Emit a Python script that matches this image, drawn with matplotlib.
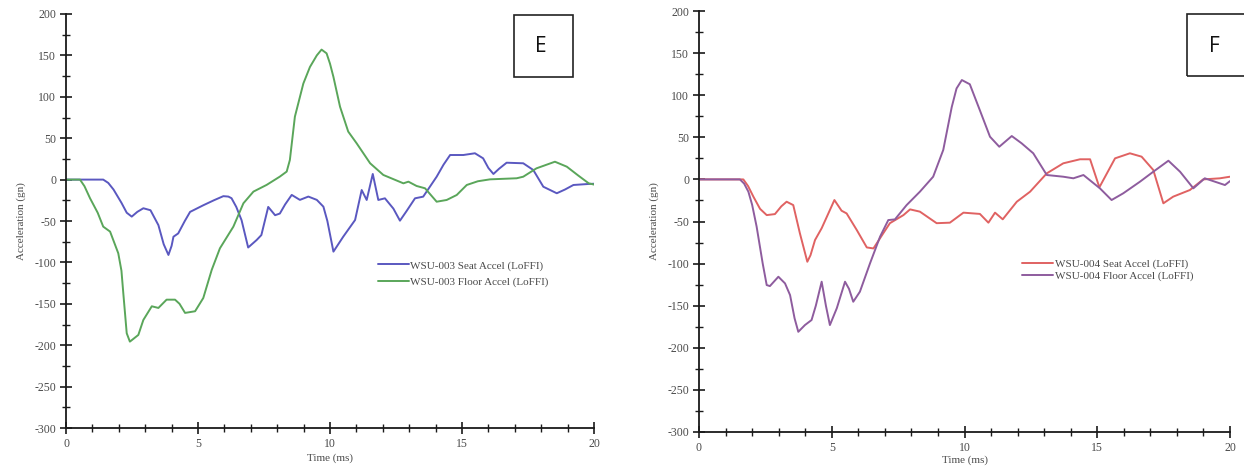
import matplotlib
matplotlib.use("Agg")
import matplotlib.pyplot as plt
from matplotlib.patches import Rectangle
from matplotlib.ticker import MultipleLocator

plt.rcParams["axes.unicode_minus"] = False

# WSU-003 (panel E)
t_seat3 = [0, 1.41, 1.6, 1.8, 2.1, 2.3, 2.49, 2.7, 2.93, 3.2, 3.5, 3.7, 3.88, 4.0, 4.07,
           4.25, 4.5, 4.7, 5.2, 5.6, 5.96, 6.15, 6.27, 6.45, 6.65, 6.9, 7.22, 7.4, 7.66,
           7.92, 8.1, 8.3, 8.55, 8.86, 9.18, 9.5, 9.75, 9.9, 10.13, 10.5, 10.95, 11.2,
           11.39, 11.62, 11.83, 12.08, 12.4, 12.65, 12.9, 13.22, 13.53, 14.04, 14.3, 14.55,
           15.05, 15.49, 15.8, 16.0, 16.19, 16.4, 16.69, 17.32, 17.7, 18.08, 18.59, 18.9,
           19.22, 19.78, 20]
a_seat3 = [0, 0, -4, -12, -28, -40, -44.7, -39, -34.6, -37, -55, -78, -91, -80, -69,
           -65, -50, -39, -31, -25, -20, -20.5, -22.5, -33, -49, -82, -73, -67, -33,
           -43, -41, -30, -18.5, -24.5, -20.5, -24.5, -32.7, -50, -87, -69, -48.8, -12.6,
           -24.6, 6.8, -24.6, -22.6, -35, -49.6, -38, -22.6, -20.6, 3.5, 18, 29.7,
           29.7, 31.8, 25.7, 14, 6.8, 13, 20.4, 19.7, 11.6, -8.6, -16.5, -12,
           -6.5, -5.3, -5]

t_floor3 = [0, 0.53, 0.7, 0.91, 1.2, 1.41, 1.67, 1.98, 2.1, 2.17, 2.3, 2.42, 2.74, 2.93,
            3.25, 3.5, 3.81, 4.13, 4.3, 4.51, 4.89, 5.2, 5.52, 5.83, 6.34, 6.72, 7.1, 7.6,
            8.1, 8.36, 8.48, 8.67, 8.99, 9.24, 9.5, 9.68, 9.87, 10.0, 10.13, 10.38, 10.69,
            11.01, 11.52, 12.02, 12.78, 12.97, 13.28, 13.6, 14.04, 14.42, 14.8, 15.18, 15.6,
            16.06, 17.07, 17.32, 17.82, 18.52, 18.97, 19.4, 19.8, 20]
a_floor3 = [0, 0, -8, -22.5, -40, -56.8, -62.8, -89, -110, -137, -185.6, -195.7, -187.6,
            -169.5, -153, -155, -145, -145, -150, -161, -159, -143, -109, -83, -56.8, -28.6,
            -14.5, -6.4, 3.6, 9.7, 23.7, 76, 116, 136, 150, 157, 152.5, 140, 124, 88, 58,
            43.8, 19.7, 5.6, -4.5, -2.5, -7.7, -10.5, -26.7, -24.6, -18.6, -6.5, -2,
            0.3, 1.6, 3.5, 13.6, 21.6, 15.6, 5, -4.5, -6]

# WSU-004 (panel F)
t_seat4 = [0, 1.67, 1.85, 2.05, 2.3, 2.55, 2.86, 3.1, 3.3, 3.55, 3.8, 4.08, 4.2, 4.37,
           4.62, 4.93, 5.1, 5.37, 5.56, 5.94, 6.32, 6.57, 6.94, 7.19, 7.7, 7.95, 8.32,
           8.95, 9.45, 9.96, 10.58, 10.9, 11.15, 11.44, 11.97, 12.47, 13.1, 13.72, 14.35,
           14.73, 15.08, 15.67, 16.23, 16.67, 17.11, 17.49, 17.86, 18.49, 18.99, 19.62, 20]
a_seat4 = [0, 0, -8, -20.6, -35, -42.4, -41.2, -32, -26.5, -30.5, -64, -97.8, -90, -72,
           -58, -36.4, -24.5, -37.2, -40.4, -60, -80.8, -82, -64, -52, -42.4, -35.6, -38.3,
           -52, -51.4, -39.5, -41, -51.4, -39.5, -47.4, -26.5, -14.6, 7.2, 19.1, 23.9,
           23.9, -9.4, 25, 31, 27, 11.2, -28.4, -20.5, -12.6, 0, 1.3, 3.2]

t_floor4 = [0, 1.54, 1.7, 1.86, 2.0, 2.17, 2.4, 2.55, 2.67, 2.99, 3.24, 3.43, 3.6, 3.74,
            3.99, 4.24, 4.4, 4.62, 4.78, 4.93, 5.19, 5.5, 5.65, 5.81, 6.06, 6.44, 6.82,
            7.13, 7.38, 7.82, 8.32, 8.82, 9.2, 9.52, 9.7, 9.9, 10.2, 10.58, 10.96, 11.31,
            11.78, 12.15, 12.59, 13.1, 13.72, 14.1, 14.48, 15.1, 15.54, 15.98, 16.61,
            17.11, 17.68, 18.12, 18.62, 19.05, 19.81, 20]
a_floor4 = [0, 0, -5, -14.6, -30, -56, -100, -125.5, -126.7, -115.6, -123.5, -137.4, -165,
            -181, -173, -167, -150, -121.5, -150, -173, -153, -121.5, -130, -145.3, -133.4,
            -99.8, -68, -48.3, -47.5, -30.5, -14.6, 3.2, 35, 86, 108, 118, 113, 82, 50.7,
            38.8, 51.5, 42.9, 31, 5.2, 3.2, 1.3, 5.2, -10.6, -24.5, -16.5, -2.7, 9.1, 22.2,
            9.1, -10.6, 1.3, -6.7, -2]

SERIF = ["Liberation Serif", "DejaVu Serif"]
TXT = "#4a4a4a"

fig = plt.figure(figsize=(12.44, 4.71), dpi=100)
ax1 = fig.add_axes([66 / 1244, 1 - 428 / 471, 528 / 1244, 414 / 471])
ax2 = fig.add_axes([699 / 1244, 1 - 432 / 471, 531 / 1244, 421 / 471])


def style(ax, xpad):
    ax.set_xlim(0, 20)
    ax.set_ylim(-300, 200)
    for s in ("top", "right"):
        ax.spines[s].set_visible(False)
    for s in ("left", "bottom"):
        ax.spines[s].set_linewidth(1.3)
        ax.spines[s].set_color("#1a1a1a")
    ax.xaxis.set_major_locator(MultipleLocator(5))
    ax.xaxis.set_minor_locator(MultipleLocator(1))
    ax.yaxis.set_major_locator(MultipleLocator(50))
    ax.yaxis.set_minor_locator(MultipleLocator(25))
    ax.tick_params(which="major", direction="inout", length=8, width=1.2,
                   color="#1a1a1a", labelsize=8.5, labelcolor=TXT, pad=3)
    ax.tick_params(which="minor", direction="inout", length=6, width=1.0, color="#1a1a1a")
    for lab in ax.get_xticklabels() + ax.get_yticklabels():
        lab.set_fontfamily(SERIF)
    ax.set_xlabel("Time (ms)", fontsize=8, color=TXT, family=SERIF, labelpad=xpad)
    ax.set_ylabel("Acceleration (gn)", fontsize=8, color=TXT, family=SERIF, labelpad=6)
    ax.patch.set_alpha(0)


style(ax1, 3)
style(ax2, 1)

kw = dict(lw=1.4, solid_joinstyle="round", solid_capstyle="round")
ax1.plot(t_seat3, a_seat3, color="#5a58c0", label="WSU-003 Seat Accel (LoFFI)", **kw)
ax1.plot(t_floor3, a_floor3, color="#5aa65a", label="WSU-003 Floor Accel (LoFFI)", **kw)
ax2.plot(t_seat4, a_seat4, color="#e06262", label="WSU-004 Seat Accel (LoFFI)", **kw)
ax2.plot(t_floor4, a_floor4, color="#8e5c9e", label="WSU-004 Floor Accel (LoFFI)", **kw)

for ax, loc, sp in ((ax1, (0.59, 0.373), 0.55), (ax2, (0.608, 0.384), 0.2)):
    leg = ax.legend(loc="center left", bbox_to_anchor=loc, frameon=False,
                    prop={"family": SERIF, "size": 8}, handlelength=2.8,
                    handletextpad=0.15, labelspacing=sp, borderaxespad=0, borderpad=0)
    for txt in leg.get_texts():
        txt.set_color(TXT)

# Panel letter boxes
for x0, y0, w, h, letter in ((514, 15, 59, 62, "E"), (1187, 14, 60, 62, "F")):
    fig.patches.append(Rectangle((x0 / 1244, 1 - (y0 + h) / 471), w / 1244, h / 471,
                                 transform=fig.transFigure, fill=False,
                                 edgecolor="#222222", lw=1.2))
    fig.text((x0 + 27) / 1244, 1 - (y0 + h / 2 + 1) / 471, letter, fontsize=15,
             family=["Open Sans", "DejaVu Sans"], ha="center", va="center", color="#111111")

fig.savefig("out.png", dpi=100, facecolor="white")
